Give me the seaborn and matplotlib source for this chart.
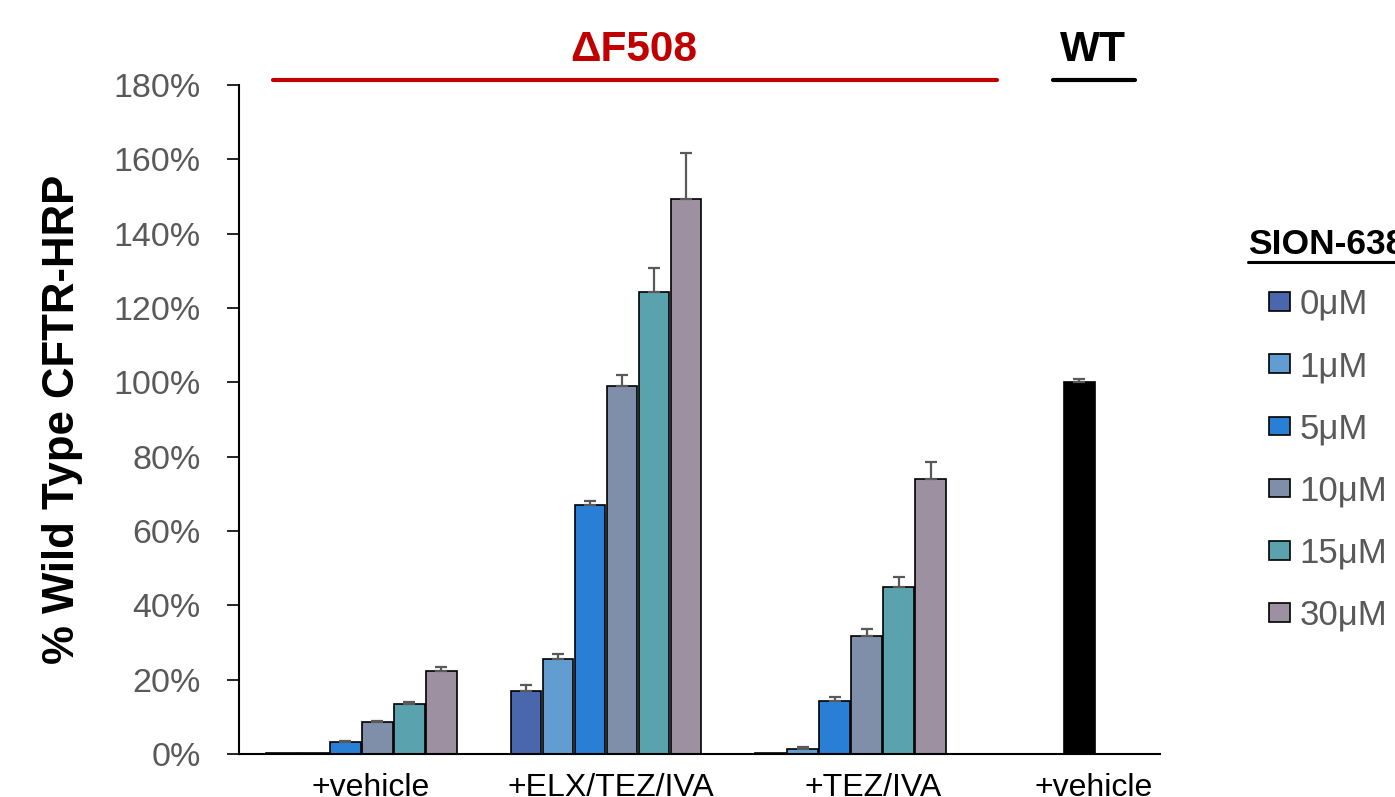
import numpy as np
import pandas as pd
import matplotlib
matplotlib.use("Agg")
import matplotlib.pyplot as plt
import matplotlib.transforms as mtransforms
import seaborn as sns
from matplotlib.patches import Patch
from matplotlib.lines import Line2D
from matplotlib.container import BarContainer

# ---------------- data ----------------
categories = ["dF508 +vehicle", "dF508 +ELX/TEZ/IVA", "dF508 +TEZ/IVA", "WT +vehicle"]
tick_labels = ["+vehicle", "+ELX/TEZ/IVA", "+TEZ/IVA", "+vehicle"]
concentrations = ["0μM", "1μM", "5μM", "10μM", "15μM", "30μM"]

vehicle_vals = [0.002, 0.003, 0.033, 0.085, 0.135, 0.224]
vehicle_err = [0.0, 0.0, 0.002, 0.004, 0.005, 0.011]
elx_vals = [0.170, 0.255, 0.670, 0.991, 1.243, 1.492]
elx_err = [0.015, 0.013, 0.011, 0.028, 0.065, 0.124]
tez_vals = [0.002, 0.014, 0.142, 0.318, 0.449, 0.739]
tez_err = [0.0, 0.004, 0.012, 0.018, 0.026, 0.047]
wt_value = [1.000]
wt_err = [0.010]
wt_slot = "5μM"  # position the WT bar occupies in the cluster

palette = ["#4A66AC", "#629DD1", "#297FD5", "#7F8FA9", "#5AA2AE", "#9D90A0"]
wt_color = "#000000"

# ---------------- build table ----------------
rows = []
for cat, vals, errs in zip(categories[:3], [vehicle_vals, elx_vals, tez_vals],
                           [vehicle_err, elx_err, tez_err]):
    for c, v, e in zip(concentrations, vals, errs):
        rows.append(dict(category=cat, conc=c, value=v, err=e))
rows.append(dict(category=categories[3], conc=wt_slot, value=wt_value[0], err=wt_err[0]))
df = pd.DataFrame(rows)

# ---------------- figure ----------------
sns.set_style("white")
plt.rcParams["font.family"] = ["Liberation Sans", "DejaVu Sans"]

W, H = 1395, 797
fig = plt.figure(figsize=(W / 100, H / 100), dpi=100)
ax = fig.add_axes([239 / W, 43 / H, 921 / W, 669 / H])

sns.barplot(data=df, x="category", y="value", hue="conc",
            order=categories, hue_order=concentrations, palette=palette,
            saturation=1, width=0.785, gap=0.04, dodge=True, errorbar=None,
            legend=False, edgecolor="black", linewidth=1.2, ax=ax, zorder=2)

err_lookup = {(categories.index(r.category), r.conc): r.err for r in df.itertuples()}

bar_containers = [c for c in ax.containers if isinstance(c, BarContainer)]
for hi, cont in enumerate(bar_containers):
    conc = concentrations[hi]
    for bar in cont:
        xc = bar.get_x() + bar.get_width() / 2
        h = bar.get_height()
        if not np.isfinite(h):
            continue
        ci = int(round(xc))
        if ci == 3:
            bar.set_facecolor(wt_color)
        e = err_lookup.get((ci, conc), 0.0)
        if e > 0:
            ax.errorbar([xc], [h], yerr=[[0], [e]], fmt="none", ecolor="#595959",
                        elinewidth=1.6, capsize=4.3, capthick=1.6, zorder=3)

ax.set_xlim(-0.5, 3.265)
ax.set_ylim(0, 1.8)
yt = np.arange(0, 1.81, 0.2)
ax.set_yticks(yt)
ax.set_yticklabels([f"{int(round(v * 100))}%" for v in yt])
ax.set_xticks(range(4))
ax.set_xticklabels(tick_labels)
ax.tick_params(axis="y", direction="out", length=8.6, width=1.2, pad=19,
               labelsize=24.5, labelcolor="#595959", color="black", left=True)
ax.tick_params(axis="x", length=0, pad=14, labelsize=23, labelcolor="black")
# nudge category labels as placed in the original
label_shift_px = [9, 5, 23, -2]
for lab, dx in zip(ax.get_xticklabels(), label_shift_px):
    lab.set_transform(lab.get_transform() +
                      mtransforms.ScaledTranslation(dx / 100, 0, fig.dpi_scale_trans))
ax.set_xlabel("")
ax.set_ylabel("% Wild Type CFTR-HRP", fontsize=31.5, fontweight="bold",
              color="black", labelpad=22)
for s in ["top", "right"]:
    ax.spines[s].set_visible(False)
for s in ["left", "bottom"]:
    ax.spines[s].set_color("black")
    ax.spines[s].set_linewidth(1.5)
ax.grid(False)

# ---------------- header annotations ----------------
def px(x, y):
    return x / W, 1 - y / H

fig.text(*px(634, 50), "ΔF508", color="#C00000", fontsize=30.5, fontweight="bold",
         ha="center", va="center")
fig.add_artist(Line2D([273 / W, 997 / W], [1 - 80 / H] * 2, color="#C00000", lw=3))
fig.text(*px(1093, 50), "WT", color="black", fontsize=30.5, fontweight="bold",
         ha="center", va="center")
fig.add_artist(Line2D([1053 / W, 1135 / W], [1 - 80 / H] * 2, color="black", lw=3))

# ---------------- legend ----------------
fig.text(*px(1248, 244), "SION-638", color="black", fontsize=25.5, fontweight="bold",
         ha="left", va="center")
fig.add_artist(Line2D([1248 / W, 1.0], [1 - 262 / H] * 2, color="black", lw=2.2))

handles = [Patch(facecolor=c, edgecolor="black", linewidth=1.2) for c in palette]
leg = fig.legend(handles, concentrations, loc="upper left",
                 bbox_to_anchor=(1269 / W, 1 - 288 / H), frameon=False,
                 borderpad=0, borderaxespad=0, fontsize=25,
                 handlelength=0.6, handleheight=0.45, handletextpad=0.28,
                 labelspacing=0.84)
for t in leg.get_texts():
    t.set_color("#595959")

fig.savefig("out.png", dpi=100)
